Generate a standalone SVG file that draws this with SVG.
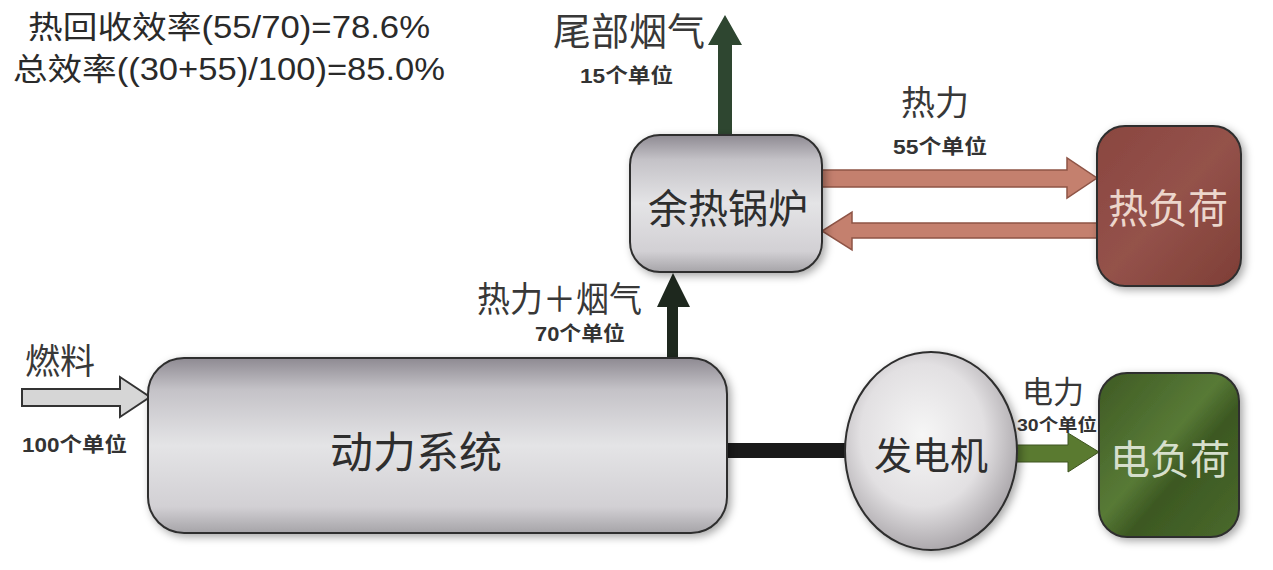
<svg xmlns="http://www.w3.org/2000/svg" width="1273" height="570" viewBox="0 0 1273 570">
<defs>
<style>
.cjk{font-family:"Noto Sans CJK SC","Liberation Sans",sans-serif;fill:#2e2e2e;}
.lbl{font-family:"Noto Sans CJK SC","Liberation Sans",sans-serif;fill:#383838;}
.num{font-family:"Liberation Sans","Noto Sans CJK SC",sans-serif;font-weight:bold;fill:#333;}
.hdr{font-family:"Liberation Sans","Noto Sans CJK SC",sans-serif;fill:#2a2a2a;}
.box{stroke:#2f2f2f;stroke-width:2;}
</style>
<linearGradient id="gGray" x1="0" y1="0" x2="0" y2="1">
<stop offset="0" stop-color="#8e8a92"/>
<stop offset="0.18" stop-color="#c4c2c7"/>
<stop offset="0.5" stop-color="#e4e4e6"/>
<stop offset="0.85" stop-color="#d2d0d4"/>
<stop offset="1" stop-color="#a6a4a8"/>
</linearGradient>
<radialGradient id="gGen" cx="0.45" cy="0.42" r="0.6">
<stop offset="0" stop-color="#f6f6f6"/>
<stop offset="0.6" stop-color="#e2e0e2"/>
<stop offset="1" stop-color="#a8a4a8"/>
</radialGradient>
<linearGradient id="gRed" x1="0" y1="0" x2="1" y2="1">
<stop offset="0" stop-color="#8a4640"/>
<stop offset="0.5" stop-color="#94524a"/>
<stop offset="1" stop-color="#7e3e36"/>
</linearGradient>
<linearGradient id="gGreen" x1="0" y1="0" x2="1" y2="1">
<stop offset="0" stop-color="#3e5a24"/>
<stop offset="0.45" stop-color="#587a36"/>
<stop offset="0.6" stop-color="#3c5822"/>
<stop offset="1" stop-color="#4a6a2c"/>
</linearGradient>
<filter id="sh" x="-20%" y="-20%" width="140%" height="140%">
<feDropShadow dx="3" dy="3" stdDeviation="4" flood-color="#000" flood-opacity="0.35"/>
</filter>
</defs>
<rect width="1273" height="570" fill="#ffffff"/>

<g id="header">
<text class="hdr" x="28" y="38" font-size="31" textLength="402" lengthAdjust="spacingAndGlyphs">热回收效率(55/70)=78.6%</text>
<text class="hdr" x="13" y="80" font-size="31" textLength="432" lengthAdjust="spacingAndGlyphs">总效率((30+55)/100)=85.0%</text>
</g>

<g id="connectors">
<!-- fuel arrow -->
<path d="M22,389 L120,389 L120,377 L150,397 L120,417 L120,406 L22,406 Z" fill="#d6d6d6" stroke="#333" stroke-width="2"/>
<!-- heat + flue gas up arrow -->
<path d="M667,359 L667,307 L657,307 L673,273 L690,307 L678,307 L678,359 Z" fill="#1e281e"/>
<!-- tail gas arrow -->
<path d="M718,136 L718,45 L708,45 L725,15 L742,45 L732,45 L732,136 Z" fill="#2e4630"/>
<!-- heat to heat load -->
<path d="M822,170 L1067,170 L1067,158 L1097,178 L1067,198 L1067,187 L822,187 Z" fill="#c4806e" stroke="#8e5446" stroke-width="1.5"/>
<!-- return from heat load -->
<path d="M1097,223 L852,223 L852,212 L822,231 L852,250 L852,238 L1097,238 Z" fill="#c4806e" stroke="#8e5446" stroke-width="1.5"/>
<!-- shaft to generator -->
<rect x="727" y="443" width="120" height="15" fill="#1a1a1a"/>
<!-- electricity arrow -->
<path d="M1015,445 L1068,445 L1068,433 L1099,452 L1068,472 L1068,462 L1015,462 Z" fill="#5a7a30" stroke="#3e5420" stroke-width="1"/>
</g>

<g id="power-system">
<rect class="box" x="148" y="358" width="579" height="175" rx="36" fill="url(#gGray)" filter="url(#sh)"/>
<text class="cjk" x="416" y="468" font-size="43" text-anchor="middle">动力系统</text>
</g>

<g id="hrsg">
<rect class="box" x="630" y="135" width="192" height="137" rx="30" fill="url(#gGray)" filter="url(#sh)"/>
<text class="cjk" x="728" y="223" font-size="40" text-anchor="middle">余热锅炉</text>
</g>

<g id="heat-load">
<rect class="box" x="1097" y="126" width="144" height="160" rx="28" fill="url(#gRed)" filter="url(#sh)"/>
<text x="1168" y="223" font-size="40" text-anchor="middle" font-family="Noto Sans CJK SC, sans-serif" fill="#ecd6cc">热负荷</text>
</g>

<g id="electric-load">
<rect class="box" x="1099" y="373" width="140" height="164" rx="28" fill="url(#gGreen)" filter="url(#sh)"/>
<text x="1170" y="474" font-size="40" text-anchor="middle" font-family="Noto Sans CJK SC, sans-serif" fill="#d6dfcc">电负荷</text>
</g>

<g id="generator">
<ellipse cx="931" cy="451" rx="86" ry="99" fill="url(#gGen)" stroke="#2f2f2f" stroke-width="2" filter="url(#sh)"/>
<text class="cjk" x="931" y="469" font-size="38" text-anchor="middle">发电机</text>
</g>

<g id="labels">
<text class="lbl" x="25" y="374" font-size="35">燃料</text>
<text class="num" x="22" y="452" font-size="20" textLength="105" lengthAdjust="spacingAndGlyphs">100个单位</text>
<text class="lbl" x="629" y="45" font-size="38" text-anchor="middle">尾部烟气</text>
<text class="num" x="580" y="83" font-size="20" textLength="93" lengthAdjust="spacingAndGlyphs">15个单位</text>
<text class="lbl" x="477" y="312" font-size="35" textLength="165" lengthAdjust="spacingAndGlyphs">热力＋烟气</text>
<text class="num" x="535" y="341" font-size="20" textLength="90" lengthAdjust="spacingAndGlyphs">70个单位</text>
<text class="lbl" x="935" y="115" font-size="34" text-anchor="middle">热力</text>
<text class="num" x="893" y="154" font-size="20" textLength="94" lengthAdjust="spacingAndGlyphs">55个单位</text>
<text class="lbl" x="1053" y="403" font-size="31" text-anchor="middle">电力</text>
<text class="num" x="1017" y="431" font-size="17" textLength="80" lengthAdjust="spacingAndGlyphs">30个单位</text>
</g>
</svg>
